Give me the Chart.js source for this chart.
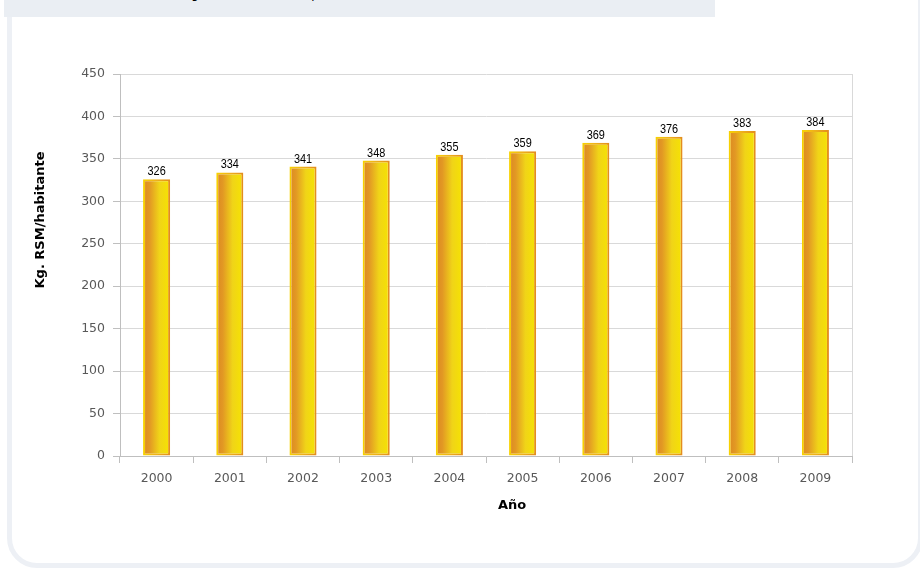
<!DOCTYPE html>
<html>
<head>
<meta charset="utf-8">
<script src="https://cdn.jsdelivr.net/npm/chart.js@4/dist/chart.umd.min.js"></script>
<style>
  html, body { margin: 0; padding: 0; background: #ffffff; }
  body { width: 920px; height: 570px; position: relative; overflow: hidden; }
  #panel {
    position: absolute; left: 7px; top: -30px; width: 906px; height: 588px;
    border: 5px solid #edf0f5; border-radius: 30px; box-sizing: content-box;
  }
  #header {
    position: absolute; left: 4px; top: 0; width: 711px; height: 17px;
    background: #eaeef3; overflow: hidden;
  }
  #header span {
    position: absolute; left: -115px; width: 711px; top: -13px; text-align: center;
    font: 12px "DejaVu Sans", sans-serif; color: #000; white-space: nowrap;
  }
  #wrap { position: absolute; left: 0; top: 0; width: 920px; height: 570px; }
</style>
</head>
<body>
<div id="panel"></div>
<div id="header"><span>Evolución de la generación de RSM por habitante</span></div>
<div id="wrap"><canvas id="c" width="920" height="570"></canvas></div>
<script>
const categories = ["2000","2001","2002","2003","2004","2005","2006","2007","2008","2009"];
const values = [326, 334, 341, 348, 355, 359, 369, 376, 383, 384];
const yTicks = [0, 50, 100, 150, 200, 250, 300, 350, 400, 450];
const xTitle = "Año";
const yTitle = "Kg. RSM/habitante";

const HALF = 14;

function centerOf(ctx) {
  const xs = ctx.chart.scales && ctx.chart.scales.x;
  if (!xs || ctx.dataIndex === undefined) return NaN;
  return xs.getPixelForValue(ctx.dataIndex);
}
function fillGrad(ctx) {
  const cx = centerOf(ctx);
  if (!isFinite(cx)) return '#eab020';
  const g = ctx.chart.ctx.createLinearGradient(cx - HALF, 0, cx + HALF, 0);
  g.addColorStop(0, '#db8820');
  g.addColorStop(0.25, '#e29824');
  g.addColorStop(0.6, '#f0d418');
  g.addColorStop(1, '#f6e400');
  return g;
}
function borderGrad(ctx) {
  const cx = centerOf(ctx);
  if (!isFinite(cx)) return '#e8a020';
  const g = ctx.chart.ctx.createLinearGradient(cx - HALF, 0, cx + HALF, 0);
  g.addColorStop(0, '#f8d400');
  g.addColorStop(0.5, '#eeb01a');
  g.addColorStop(1, '#e28a1e');
  return g;
}

const extras = {
  id: 'extras',
  afterDraw(chart) {
    const c = chart.ctx, a = chart.chartArea;
    c.save();
    c.strokeStyle = '#d9d9d9';
    c.lineWidth = 1;
    c.beginPath();
    c.moveTo(Math.round(a.right) + 0.5, a.top);
    c.lineTo(Math.round(a.right) + 0.5, a.bottom);
    c.stroke();
    const meta = chart.getDatasetMeta(0);
    c.fillStyle = '#000';
    c.font = '13px "Liberation Sans", sans-serif';
    c.textAlign = 'center';
    c.textBaseline = 'alphabetic';
    meta.data.forEach((bar, i) => {
      c.save();
      c.translate(bar.x, bar.y - 4);
      c.scale(0.84, 1);
      c.fillText(String(values[i]), 0, 0);
      c.restore();
    });
    c.font = 'bold 13px "DejaVu Sans", sans-serif';
    c.textBaseline = 'middle';
    c.fillText(xTitle, (a.left + a.right) / 2 + 26, 506);
    c.translate(41, 220);
    c.rotate(-Math.PI / 2);
    c.fillText(yTitle, 0, 0);
    c.restore();
  }
};

const chart = new Chart(document.getElementById('c'), {
  type: 'bar',
  data: {
    labels: categories,
    datasets: [{
      data: values,
      backgroundColor: fillGrad,
      borderColor: borderGrad,
      borderWidth: 2,
      borderSkipped: false,
      categoryPercentage: 1,
      barPercentage: 0.37
    }]
  },
  options: {
    responsive: false,
    animation: false,
    devicePixelRatio: 1,
    layout: { padding: { top: 74, right: 68, bottom: 0, left: 0 } },
    plugins: { legend: { display: false }, tooltip: { enabled: false } },
    scales: {
      x: {
        grid: { offset: true, drawOnChartArea: false, drawTicks: true, tickLength: 7, color: '#bfbfbf' },
        border: { color: '#bfbfbf' },
        ticks: { color: '#595959', font: { family: '"DejaVu Sans", sans-serif', size: 12.5 }, padding: 8 },
        afterFit(s) { s.height = 114; }
      },
      y: {
        min: 0, max: 450,
        afterBuildTicks(s) { s.ticks = yTicks.map(v => ({ value: v })); },
        grid: { color: '#d9d9d9', tickLength: 7, tickColor: '#bfbfbf' },
        border: { color: '#bfbfbf' },
        ticks: { color: '#595959', font: { family: '"DejaVu Sans", sans-serif', size: 12.5 }, padding: 8 },
        afterFit(s) { s.width = 120; }
      }
    }
  },
  plugins: [extras]
});
chart.update('none');
</script>
</body>
</html>
